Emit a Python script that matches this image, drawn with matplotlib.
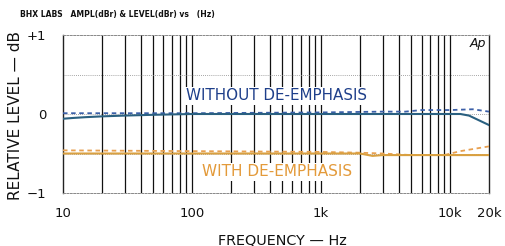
import matplotlib
matplotlib.use("Agg")
import matplotlib.pyplot as plt
import numpy as np

# ---- data ----
freq_wo_solid = [10, 12, 15, 20, 30, 50, 100, 300, 1000, 3000, 8000, 12000, 14000, 20000]
lvl_wo_solid  = [-0.06, -0.05, -0.04, -0.03, -0.02, -0.01, 0.0, 0.0, 0.0, 0.0, 0.0, 0.0, -0.02, -0.14]

freq_wo_dash = [10, 30, 100, 1000, 3000, 4500, 6000, 10000, 15000, 20000]
lvl_wo_dash  = [0.01, 0.01, 0.01, 0.02, 0.03, 0.03, 0.05, 0.05, 0.06, 0.03]

freq_w_solid = [10, 20, 100, 500, 1000, 2000, 2500, 3000, 4000, 10000, 20000]
lvl_w_solid  = [-0.50, -0.50, -0.50, -0.50, -0.50, -0.50, -0.53, -0.52, -0.52, -0.52, -0.52]

freq_w_dash = [10, 100, 1000, 2000, 3000, 5000, 9000, 12000, 20000]
lvl_w_dash  = [-0.46, -0.47, -0.48, -0.49, -0.50, -0.52, -0.52, -0.47, -0.41]

xtick_vals = [10, 100, 1000, 10000, 20000]
xtick_labels = ["10", "100", "1k", "10k", "20k"]
ytick_vals = [1, 0, -1]
ytick_labels = ["+1", "0", "\u22121"]

fig = plt.figure(figsize=(5.05, 2.46), dpi=100)
ax = fig.add_axes([63/505, 1-193/246, (489-63)/505, (193-35)/246])

ax.set_xscale("log")
ax.set_xlim(10, 20000)
ax.set_ylim(-1, 1)

# grid: vertical solid black lines at every 1..9 multiple
for dec in [10, 100, 1000, 10000]:
    for m in range(1, 10):
        f = dec * m
        if 10 < f < 20000:
            ax.axvline(f, color="#111111", lw=0.9, zorder=1)
for yv in [-0.5, 0.0, 0.5]:
    ax.axhline(yv, color="#888888", lw=0.6, ls=(0, (1, 1.5)), zorder=1)

for s in ["top", "bottom"]:
    ax.spines[s].set_color("#888888")
    ax.spines[s].set_linestyle((0, (2, 1.5)))
    ax.spines[s].set_linewidth(0.7)
for s in ["left", "right"]:
    ax.spines[s].set_color("#222222")
    ax.spines[s].set_linewidth(1.0)

ax.plot(freq_wo_dash, lvl_wo_dash, color="#3b5fa8", lw=1.3, ls=(0, (2.5, 2)), zorder=3)
ax.plot(freq_wo_solid, lvl_wo_solid, color="#2a6080", lw=1.5, zorder=4)
ax.plot(freq_w_dash, lvl_w_dash, color="#e8a050", lw=1.3, ls=(0, (2.5, 2)), zorder=3)
ax.plot(freq_w_solid, lvl_w_solid, color="#d9a040", lw=1.5, zorder=4)

ax.set_xticks(xtick_vals)
ax.set_xticklabels(xtick_labels)
ax.set_xticks([], minor=True)
ax.set_yticks(ytick_vals)
ax.set_yticklabels(ytick_labels)
ax.tick_params(axis="both", length=0, labelsize=9.5, colors="#111111")
ax.tick_params(axis="x", pad=10)
ax.tick_params(axis="y", pad=12)

fig.text(282/505, 1-240/246, "FREQUENCY \u2014 Hz", fontsize=10.4, color="#111111",
         ha="center", va="center")
fig.text(16/505, 1-115/246, "RELATIVE LEVEL \u2014 dB", fontsize=11, color="#111111",
         ha="center", va="center", rotation=90)

fig.text(277/505, 1-96/246, "WITHOUT DE-EMPHASIS",
         ha="center", va="center", fontsize=10.9, color="#1e3f8a",
         bbox=dict(facecolor="white", edgecolor="none", pad=1), zorder=5)
fig.text(277/505, 1-172/246, "WITH DE-EMPHASIS",
         ha="center", va="center", fontsize=11, color="#e39a3a",
         bbox=dict(facecolor="white", edgecolor="none", pad=1), zorder=5)

fig.text(478/505, 1-44/246, "Ap", ha="center", va="center", fontsize=9,
         style="italic", color="#111111",
         bbox=dict(facecolor="white", edgecolor="none", pad=1), zorder=6)

fig.text(20/505, 1-14/246, "BHX LABS   AMPL(dBr) & LEVEL(dBr) vs   (Hz)",
         ha="left", va="center", fontsize=5.5, fontweight="bold", color="#111111")

fig.savefig("out.png", dpi=100, facecolor="white")
